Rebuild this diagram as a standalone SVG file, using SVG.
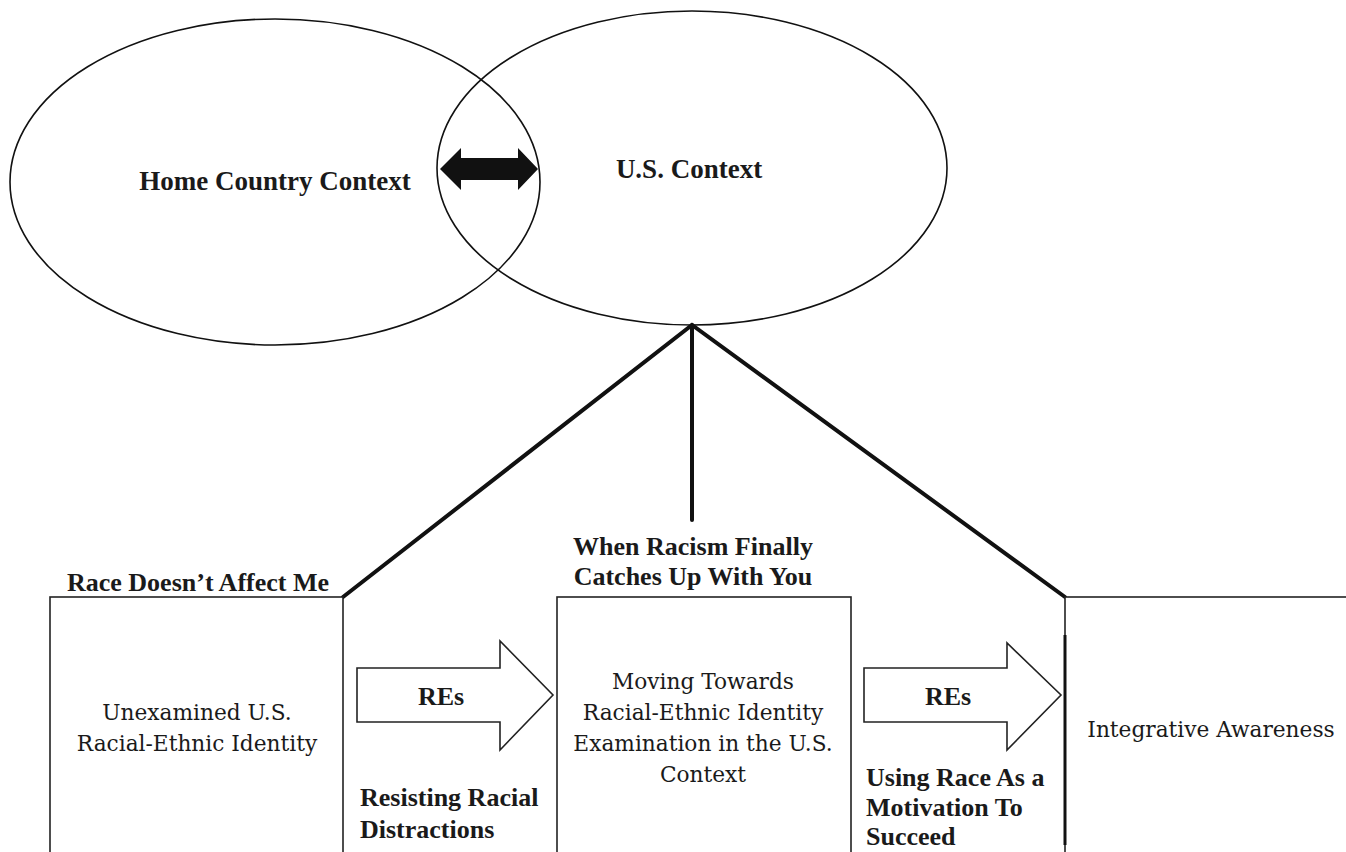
<svg xmlns="http://www.w3.org/2000/svg" width="1346" height="852" viewBox="0 0 1346 852">
<style>
.sh{fill:none;stroke:#111;stroke-width:1.6}
.box{fill:#fff;stroke:#222;stroke-width:1.6}
.bold{font-family:"Liberation Serif",serif;font-weight:bold;fill:#1a1a1a}
.reg{font-family:"DejaVu Serif","Liberation Serif",serif;fill:#1a1a1a}
.con{stroke:#111;stroke-width:4;fill:none;stroke-linecap:round}
.blk{fill:#fff;stroke:#222;stroke-width:1.6;stroke-linejoin:miter}
</style>
<rect width="1346" height="852" fill="#fff"/>
<g id="home">
<ellipse class="sh" cx="275" cy="182" rx="265" ry="163"/>
<text class="bold" x="275" y="190" font-size="27" text-anchor="middle">Home Country Context</text>
</g>
<g id="us">
<ellipse class="sh" cx="692" cy="168" rx="255" ry="157"/>
<text class="bold" x="689" y="178" font-size="27" text-anchor="middle">U.S. Context</text>
</g>
<g id="connectors">
<polygon points="440,169 461,148 461,158 518,158 518,148 538,169 518,190 518,180 461,180 461,190" fill="#111"/>
<polyline class="con" points="343,597 692,325 1065,597"/>
<line class="con" x1="692" y1="325" x2="692" y2="520"/>
</g>
<g id="box1">
<rect class="box" x="50" y="597" width="293" height="260"/>
<text class="bold" x="198" y="591" font-size="26" text-anchor="middle">Race Doesn’t Affect Me</text>
<text class="reg" font-size="21.7" text-anchor="middle"><tspan x="197" y="720">Unexamined U.S.</tspan><tspan x="197" y="751">Racial-Ethnic Identity</tspan></text>
</g>
<g id="box2">
<rect class="box" x="557" y="597" width="294" height="260"/>
<text class="bold" font-size="26" text-anchor="middle"><tspan x="693" y="555">When Racism Finally</tspan><tspan x="693" y="585">Catches Up With You</tspan></text>
<text class="reg" font-size="21.7" text-anchor="middle"><tspan x="703" y="689">Moving Towards</tspan><tspan x="703" y="720">Racial-Ethnic Identity</tspan><tspan x="703" y="751">Examination in the U.S.</tspan><tspan x="703" y="782">Context</tspan></text>
</g>
<g id="box3">
<rect class="box" x="1065" y="597" width="290" height="260"/>
<line x1="1065" y1="635" x2="1065" y2="845" stroke="#111" stroke-width="3"/>
<text class="reg" x="1211" y="737" font-size="21.7" text-anchor="middle">Integrative Awareness</text>
</g>
<g id="arrow1">
<polygon class="blk" points="357,668 500,668 500,641 553,695 500,750 500,722 357,722"/>
<text class="bold" x="441" y="705" font-size="26" text-anchor="middle">REs</text>
<text class="bold" font-size="26"><tspan x="360" y="806">Resisting Racial</tspan><tspan x="360" y="838">Distractions</tspan></text>
</g>
<g id="arrow2">
<polygon class="blk" points="864,668 1007,668 1007,643 1061,695 1007,750 1007,722 864,722"/>
<text class="bold" x="948" y="705" font-size="26" text-anchor="middle">REs</text>
<text class="bold" font-size="26"><tspan x="866" y="786">Using Race As a</tspan><tspan x="866" y="816">Motivation To</tspan><tspan x="866" y="845">Succeed</tspan></text>
</g>
</svg>
